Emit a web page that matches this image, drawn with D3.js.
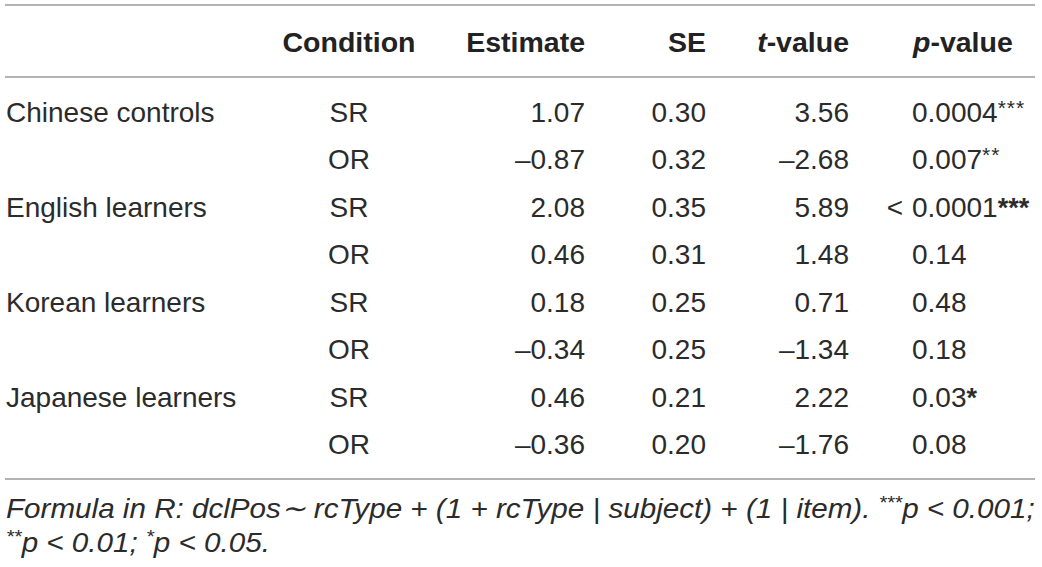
<!DOCTYPE html>
<html>
<head>
<meta charset="utf-8">
<script src="https://cdn.jsdelivr.net/npm/d3@7"></script>
<style>
  html, body { margin: 0; padding: 0; background: #fff; }
  svg { display: block; }
  .cell { font-family: "Liberation Sans", Arial, sans-serif; font-size: 28px; fill: #2b2b2b; }
  .head { font-family: "Liberation Sans", Arial, sans-serif; font-size: 28.5px; font-weight: bold; fill: #222; }
  .note { font-family: "Liberation Sans", Arial, sans-serif; font-size: 28px; font-style: italic; fill: #2b2b2b; }
  .rule { stroke: #9a9a9a; stroke-width: 1.6; }
</style>
</head>
<body>
<div id="table"></div>
<script>
// table values
const groups = ["Chinese controls", "English learners", "Korean learners", "Japanese learners"];
const conditions = ["SR", "OR"];
const estimates = [1.07, -0.87, 2.08, 0.46, 0.18, -0.34, 0.46, -0.36];
const ses = [0.30, 0.32, 0.35, 0.31, 0.25, 0.25, 0.21, 0.20];
const tValues = [3.56, -2.68, 5.89, 1.48, 0.71, -1.34, 2.22, -1.76];
const pPrefix = ["", "", "<", "", "", "", "", ""];
const pLabels = ["0.0004", "0.007", "0.0001", "0.14", "0.48", "0.18", "0.03", "0.08"];
const pStars = ["***", "**", "***", "", "", "", "*", ""];
const boldStars = [false, false, true, false, false, false, true, false];

const width = 1042, height = 567;

const svg = d3.select("#table").append("svg")
    .attr("width", width)
    .attr("height", height);

const rows = d3.range(groups.length * conditions.length);
const y = d3.scaleBand().domain(rows).range([88.3, 467.7]);
const base = i => y(i) + y.bandwidth() / 2 + 10;

const fmt = v => (v < 0 ? "\u2013" : "") + d3.format(".2f")(Math.abs(v));

const columns = [
    {head: "Condition", anchor: "middle", x: 349, value: i => conditions[i % 2]},
    {head: "Estimate", anchor: "end", x: 585, value: i => fmt(estimates[i])},
    {head: "SE", anchor: "end", x: 706, value: i => fmt(ses[i])},
    {head: "t-value", anchor: "end", x: 849, value: i => fmt(tValues[i])}
];
const pX = 912;

// rules
svg.selectAll("line.rule")
    .data([5, 77, 479])
    .enter().append("line")
    .attr("class", "rule")
    .attr("x1", 5).attr("x2", 1035)
    .attr("y1", d => d).attr("y2", d => d);

// header
const headY = 52;
columns.forEach(c => {
    const t = svg.append("text").attr("class", "head")
        .attr("x", c.x).attr("y", headY).attr("text-anchor", c.anchor);
    if (c.head === "t-value") {
        t.append("tspan").attr("font-style", "italic").text("t");
        t.append("tspan").text("-value");
    } else {
        t.text(c.head);
    }
});
const ph = svg.append("text").attr("class", "head").attr("x", pX + 1).attr("y", headY);
ph.append("tspan").attr("font-style", "italic").text("p");
ph.append("tspan").text("-value");

// group labels
svg.selectAll("text.group")
    .data(groups)
    .enter().append("text")
    .attr("class", "cell group")
    .attr("x", 6)
    .attr("y", (d, i) => base(i * 2))
    .text(d => d);

// numeric columns
columns.forEach(c => {
    svg.append("g").selectAll("text")
        .data(rows)
        .enter().append("text")
        .attr("class", "cell")
        .attr("x", c.x)
        .attr("y", d => base(d))
        .attr("text-anchor", c.anchor)
        .text(d => c.value(d));
});

// p-values: "<" hangs left of the aligned numbers
svg.append("g").selectAll("text")
    .data(rows.filter(i => pPrefix[i]))
    .enter().append("text")
    .attr("class", "cell")
    .attr("x", pX - 9)
    .attr("y", d => base(d))
    .attr("text-anchor", "end")
    .text(d => pPrefix[d]);

const pt = svg.append("g").selectAll("text")
    .data(rows)
    .enter().append("text")
    .attr("class", "cell")
    .attr("x", pX)
    .attr("y", d => base(d));
pt.append("tspan").text(d => pLabels[d]);
pt.append("tspan")
    .attr("font-weight", d => boldStars[d] ? "bold" : "normal")
    .attr("font-size", d => boldStars[d] ? 27 : 21)
    .attr("letter-spacing", d => boldStars[d] ? 0 : 1)
    .attr("dy", d => boldStars[d] ? 0 : -7)
    .text(d => pStars[d]);

// footnote, condensed to the table width
const note = svg.append("g");
const n1 = note.append("text").attr("class", "note").attr("x", 0).attr("y", 0);
n1.append("tspan").text("Formula in R: dclPos\u223C rcType + (1 + rcType | subject) + (1 | item). ");
n1.append("tspan").attr("font-size", 19).attr("dy", -9).text("***");
n1.append("tspan").attr("dy", 9).text("p < 0.001;");

const n2 = note.append("text").attr("class", "note").attr("x", 0).attr("y", 34);
n2.append("tspan").attr("font-size", 19).attr("dy", -9).text("**");
n2.append("tspan").attr("dy", 9).text("p < 0.01; ");
n2.append("tspan").attr("font-size", 19).attr("dy", -9).text("*");
n2.append("tspan").attr("dy", 9).text("p < 0.05.");

const sx = 1029 / n1.node().getComputedTextLength();
note.attr("transform", `translate(6,518) scale(${sx},1)`);
</script>
</body>
</html>
